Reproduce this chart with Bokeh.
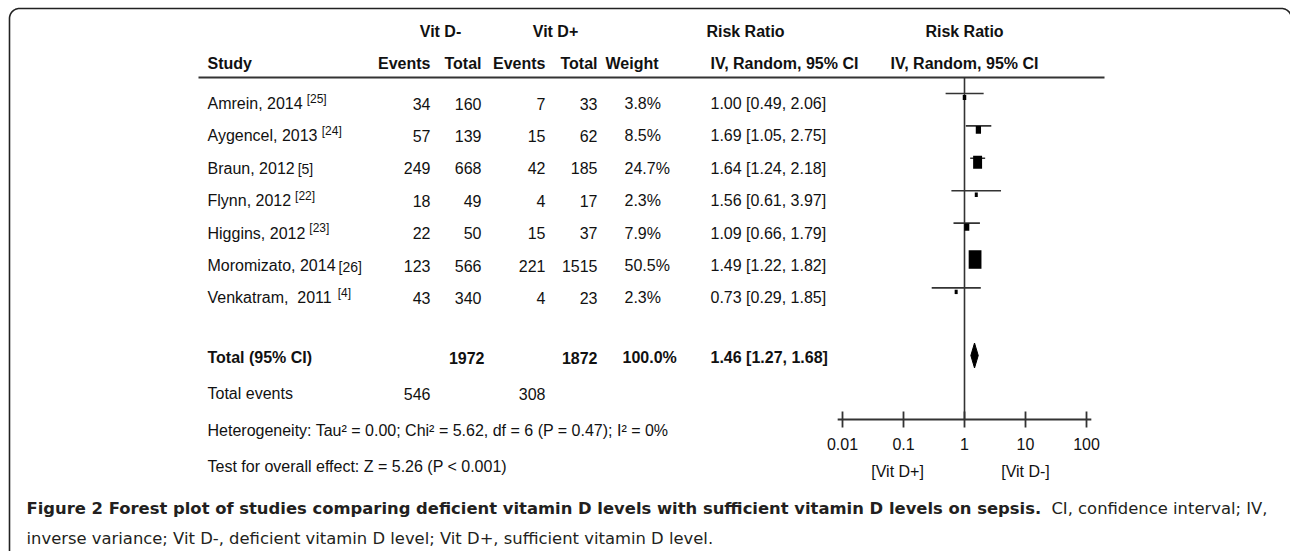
import numpy as np
from bokeh.plotting import figure
from bokeh.models import Range1d, LogScale, ColumnDataSource
from bokeh.core.properties import value
from bokeh.embed import file_html
from bokeh.resources import INLINE

# ---------------- data ----------------
studies = ["Amrein, 2014", "Aygencel, 2013", "Braun, 2012", "Flynn, 2012",
           "Higgins, 2012", "Moromizato, 2014", "Venkatram,\u00a0 2011"]
refs = ["[25]", "[24]", "[5]", "[22]", "[23]", "[26]", "[4]"]
ref_raised = [True, True, False, True, True, False, True]
events_neg = [34, 57, 249, 18, 22, 123, 43]
total_neg = [160, 139, 668, 49, 50, 566, 340]
events_pos = [7, 15, 42, 4, 15, 221, 4]
total_pos = [33, 62, 185, 17, 37, 1515, 23]
weights = [3.8, 8.5, 24.7, 2.3, 7.9, 50.5, 2.3]
rr = [1.00, 1.69, 1.64, 1.56, 1.09, 1.49, 0.73]
rr_lo = [0.49, 1.05, 1.24, 0.61, 0.66, 1.22, 0.29]
rr_hi = [2.06, 2.75, 2.18, 3.97, 1.79, 1.82, 1.85]

total_n_neg, total_n_pos, total_weight = 1972, 1872, 100.0
total_rr, total_lo, total_hi = 1.46, 1.27, 1.68
total_ev_neg, total_ev_pos = 546, 308
heterogeneity = "Heterogeneity: Tau\u00b2 = 0.00; Chi\u00b2 = 5.62, df = 6 (P = 0.47); I\u00b2 = 0%"
overall = "Test for overall effect: Z = 5.26 (P < 0.001)"

axis_ticks = [0.01, 0.1, 1, 10, 100]
axis_tick_labels = ["0.01", "0.1", "1", "10", "100"]
favours = ["[Vit D+]", "[Vit D-]"]
favours_at = [0.08, 10]

caption_bold = "Figure 2 Forest plot of studies comparing deficient vitamin D levels with sufficient vitamin D levels on sepsis."
caption_rest1 = "CI, confidence interval; IV,"
caption_line2 = "inverse variance; Vit D-, deficient vitamin D level; Vit D+, sufficient vitamin D level."

# ---------------- layout / style ----------------
W, H = 1290, 551
TF = "Liberation Sans"
CF = "DejaVu Sans"
INK = "#111111"
LINE = "#333333"
FS = 16

ONE_X, DECADE = 964, 61.0          # pixel position of RR = 1, pixels per decade
ROW0, ROW_H = 103, 32.4
rows_y = [ROW0 + i * ROW_H for i in range(len(studies))]
Y_VIT, Y_HEAD, Y_RULE = 31, 63, 77
Y_TOTAL = 357
Y_TEV, Y_HET, Y_TEST = 393, 430, 466
Y_AXIS, Y_TICKLAB, Y_FAV = 419, 443, 471
Y_CAP1, Y_CAP2 = 508, 538

X_STUDY = 207
X_EN, X_TN, X_EP, X_TP = 430, 481, 545, 597
X_W, X_RR = 624, 710

AR = dict(zip(" \u00a0,.-()[];:%+=<", [278, 278, 278, 278, 333, 333, 333, 278, 278, 278, 278, 889, 584, 584, 584]))
AR.update({d: 556 for d in "0123456789"})
AR.update(dict(zip("ABCDEFGHIJKLMNOPQRSTUVWXYZ",
                   [667, 667, 722, 722, 667, 611, 778, 722, 278, 500, 667, 556, 833, 722, 778, 667, 778, 722, 667, 611, 722, 667, 944, 667, 667, 611])))
AR.update(dict(zip("abcdefghijklmnopqrstuvwxyz",
                   [556, 556, 500, 556, 556, 278, 556, 556, 222, 222, 500, 222, 833, 556, 556, 556, 556, 333, 500, 278, 556, 500, 722, 500, 500, 500])))


def text_width(s, size):
    return sum(AR.get(c, 556) for c in s) * size / 1000.0


p = figure(width=W, height=H, x_range=Range1d(0, W), y_range=Range1d(H, 0),
           output_backend="svg", toolbar_location=None, min_border=0,
           x_axis_type=None, y_axis_type=None)
p.grid.grid_line_color = None
p.outline_line_color = None
p.background_fill_color = "white"
p.border_fill_color = "white"
p.extra_x_ranges = {"rr": Range1d(10 ** ((0 - ONE_X) / DECADE), 10 ** ((W - ONE_X) / DECADE))}
p.extra_x_scales = {"rr": LogScale()}


def txt(x, y, s, size=FS, bold=False, align="left", font=TF, rng="default", color=INK):
    p.text(x=[x], y=[y], text=[s], text_font=value(font), text_font_size=value(f"{size}px"),
           text_font_style="bold" if bold else "normal", text_align=align,
           text_baseline="middle", text_color=color, x_range_name=rng)


def col(xs, ys, texts, align, size=FS, bold=False, rng="default", font=TF):
    src = ColumnDataSource(dict(x=xs, y=ys, t=texts))
    p.text(x="x", y="y", text="t", source=src, text_font=value(font),
           text_font_size=value(f"{size}px"), text_font_style="bold" if bold else "normal",
           text_align=align, text_baseline="middle", text_color=INK, x_range_name=rng)


# ---------------- frame ----------------
r = 10
t1 = np.linspace(np.pi, 1.5 * np.pi, 16)
t2 = np.linspace(1.5 * np.pi, 2 * np.pi, 16)
fx = [9] + list(9 + r + r * np.cos(t1)) + list(1281 + r * np.cos(t2)) + [1291]
fy = [H] + list(8 + r + r * np.sin(t1)) + list(8 + r + r * np.sin(t2)) + [H]
p.line(fx, fy, line_color="#222222", line_width=1.6)

# ---------------- headers ----------------
txt(440, Y_VIT, "Vit D-", bold=True, align="center")
txt(555, Y_VIT, "Vit D+", bold=True, align="center")
txt(745, Y_VIT, "Risk Ratio", bold=True, align="center")
txt(1, Y_VIT, "Risk Ratio", bold=True, align="center", rng="rr")
txt(X_STUDY, Y_HEAD, "Study", bold=True)
txt(X_EN, Y_HEAD, "Events", bold=True, align="right")
txt(X_TN, Y_HEAD, "Total", bold=True, align="right")
txt(X_EP, Y_HEAD, "Events", bold=True, align="right")
txt(X_TP, Y_HEAD, "Total", bold=True, align="right")
txt(605, Y_HEAD, "Weight", bold=True)
txt(X_RR, Y_HEAD, "IV, Random, 95% CI", bold=True)
txt(1, Y_HEAD, "IV, Random, 95% CI", bold=True, align="center", rng="rr")
p.segment(x0=[198], y0=[Y_RULE], x1=[1104], y1=[Y_RULE], line_color=LINE, line_width=2)

# ---------------- study rows ----------------
col([X_STUDY] * len(studies), rows_y, studies, "left")
ref_x = [X_STUDY + text_width(s, FS) + (4 if up else 3) for s, up in zip(studies, ref_raised)]
ref_y = [y - 5 if up else y + 1 for y, up in zip(rows_y, ref_raised)]
for up in (True, False):
    idx = [i for i in range(len(refs)) if ref_raised[i] == up]
    col([ref_x[i] for i in idx], [ref_y[i] for i in idx], [refs[i] for i in idx], "left",
        size=12 if up else 14)
col([X_EN] * 7, rows_y, [str(v) for v in events_neg], "right")
col([X_TN] * 7, rows_y, [str(v) for v in total_neg], "right")
col([X_EP] * 7, rows_y, [str(v) for v in events_pos], "right")
col([X_TP] * 7, rows_y, [str(v) for v in total_pos], "right")
col([X_W] * 7, rows_y, [f"{w:.1f}%" for w in weights], "left")
col([X_RR] * 7, rows_y, [f"{a:.2f} [{b:.2f}, {c:.2f}]" for a, b, c in zip(rr, rr_lo, rr_hi)], "left")

# ---------------- totals ----------------
txt(X_STUDY, Y_TOTAL, "Total (95% CI)", bold=True)
txt(X_TN + 3, Y_TOTAL, str(total_n_neg), bold=True, align="right")
txt(X_TP, Y_TOTAL, str(total_n_pos), bold=True, align="right")
txt(X_W - 2, Y_TOTAL, f"{total_weight:.1f}%", bold=True)
txt(X_RR, Y_TOTAL, f"{total_rr:.2f} [{total_lo:.2f}, {total_hi:.2f}]", bold=True)
txt(X_STUDY, Y_TEV, "Total events")
txt(X_EN, Y_TEV, str(total_ev_neg), align="right")
txt(X_EP, Y_TEV, str(total_ev_pos), align="right")
txt(X_STUDY, Y_HET, heterogeneity)
txt(X_STUDY, Y_TEST, overall)

# ---------------- forest panel ----------------
p.segment(x0=[1], y0=[Y_RULE], x1=[1], y1=[Y_AXIS], x_range_name="rr",
          line_color=LINE, line_width=1.6)
ci_y = [y - 10 for y in rows_y]
p.segment(x0=rr_lo, y0=ci_y, x1=rr_hi, y1=ci_y, x_range_name="rr",
          line_color=LINE, line_width=1.6)
side = [max(3.0, 1.8 * np.sqrt(w)) for w in weights]
p.rect(x=rr, y=[y - 6 for y in rows_y], width=side, height=[1.45 * s for s in side],
       width_units="screen", height_units="screen", x_range_name="rr",
       fill_color="black", line_color=None)
dy = 12.5
yc = Y_TOTAL - 2
p.patch(x=[total_lo, total_rr, total_hi, total_rr], y=[yc, yc - dy, yc, yc + dy],
        x_range_name="rr", fill_color="black", line_color="black", line_width=1)

ax_lo, ax_hi = axis_ticks[0] / 1.2, axis_ticks[-1] * 1.2
p.segment(x0=[ax_lo], y0=[Y_AXIS], x1=[ax_hi], y1=[Y_AXIS], x_range_name="rr",
          line_color=LINE, line_width=1.8)
p.segment(x0=axis_ticks, y0=[Y_AXIS - 8] * 5, x1=axis_ticks, y1=[Y_AXIS + 8] * 5,
          x_range_name="rr", line_color=LINE, line_width=1.8)
col(axis_ticks, [Y_TICKLAB] * 5, axis_tick_labels, "center", rng="rr")
col(favours_at, [Y_FAV] * 2, favours, "center", rng="rr")

# ---------------- caption ----------------
CS = 16.4
txt(26, Y_CAP1, caption_bold, size=CS, bold=True, font=CF, color="#231f20")
txt(1267, Y_CAP1, caption_rest1, size=CS, font=CF, align="right", color="#231f20")
txt(26, Y_CAP2, caption_line2, size=CS, font=CF, color="#231f20")

open("out.html", "w").write(file_html(p, INLINE))
